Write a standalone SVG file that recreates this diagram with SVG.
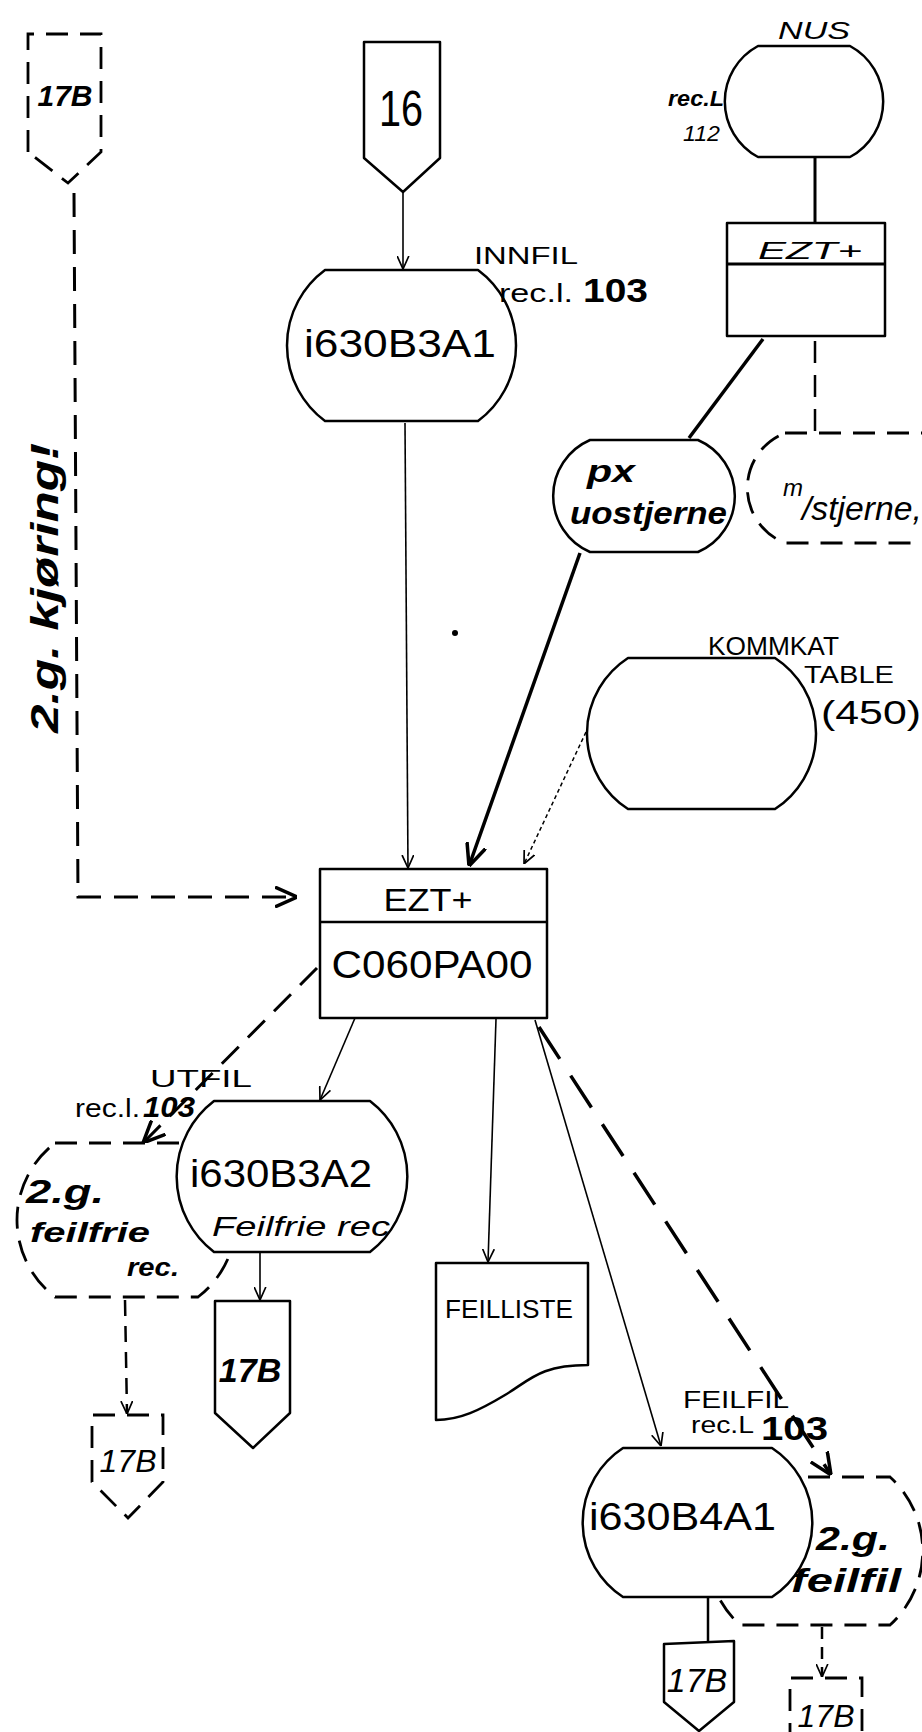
<svg xmlns="http://www.w3.org/2000/svg" width="922" height="1732" viewBox="0 0 922 1732">
<style>
.n{fill:#fff;stroke:#000;stroke-width:2.5;stroke-linejoin:round}
.d{fill:#fff;stroke:#000;stroke-width:2.8;stroke-dasharray:22 12}
.c{fill:none;stroke:#000;stroke-width:1.6}
.cd{fill:none;stroke:#000;stroke-width:3;stroke-dasharray:24 13}
.pr{font-family:"Liberation Sans",Arial,sans-serif;fill:#000}
.hd{font-family:"Liberation Sans",Arial,sans-serif;font-style:italic;fill:#000}
.b{font-weight:bold}
</style>
<defs>
<marker id="v" viewBox="0 0 10 10" refX="10" refY="5" markerWidth="13" markerHeight="13" markerUnits="userSpaceOnUse" orient="auto">
<path d="M0,0.5 L10,5 L0,9.5" fill="none" stroke="#000" stroke-width="1.3"/>
</marker>
<marker id="vt" viewBox="0 0 10 10" refX="10" refY="5" markerWidth="22" markerHeight="22" markerUnits="userSpaceOnUse" orient="auto">
<path d="M0,0.5 L10,5 L0,9.5" fill="none" stroke="#000" stroke-width="1.6"/>
</marker>
</defs>
<rect width="922" height="1732" fill="#fff"/>

<g id="connectors">
<polyline class="cd" points="74,193 78,897 297,897" marker-end="url(#vt)"/>
<line class="c" x1="403" y1="192" x2="403" y2="269" marker-end="url(#v)"/>
<line class="c" x1="405" y1="423" x2="408" y2="868" marker-end="url(#v)"/>
<line x1="815" y1="157" x2="815" y2="223" stroke="#000" stroke-width="3"/>
<line x1="763" y1="339" x2="689" y2="438" stroke="#000" stroke-width="3.5"/>
<line x1="815" y1="341" x2="815" y2="433" stroke="#000" stroke-width="2.5" stroke-dasharray="22 12"/>
<line x1="580" y1="553" x2="469" y2="866" stroke="#000" stroke-width="3.5" marker-end="url(#vt)"/>
<line x1="586" y1="732" x2="524" y2="864" stroke="#000" stroke-width="1.5" stroke-dasharray="4 3" marker-end="url(#v)"/>
<line x1="317" y1="968" x2="143" y2="1143" class="cd" stroke-width="3.8" marker-end="url(#vt)"/>
<line class="c" x1="355" y1="1018" x2="320" y2="1100" marker-end="url(#v)"/>
<line class="c" x1="260" y1="1252" x2="260" y2="1300" marker-end="url(#v)"/>
<line x1="125" y1="1300" x2="127" y2="1414" stroke="#000" stroke-width="2.5" stroke-dasharray="16 10" marker-end="url(#v)"/>
<line class="c" x1="496" y1="1019" x2="488" y2="1262" marker-end="url(#v)"/>
<line class="c" x1="535" y1="1020" x2="661" y2="1446" marker-end="url(#v)"/>
<line x1="539" y1="1027" x2="831" y2="1475" stroke="#000" stroke-width="3.5" stroke-dasharray="38 20" marker-end="url(#vt)"/>
<line x1="708" y1="1597" x2="708" y2="1643" stroke="#000" stroke-width="2.5"/>
<line x1="822" y1="1627" x2="822" y2="1677" stroke="#000" stroke-width="2.5" stroke-dasharray="12 8" marker-end="url(#v)"/>
<circle cx="455" cy="633" r="3" fill="#000"/>
</g>

<g id="n17b_top">
<path class="d" d="M28,152 V34 H101 V152 L68,183 Z" stroke-dasharray="30 14"/>
<text class="hd b" x="65" y="106" font-size="30" text-anchor="middle">17B</text>
</g>

<g id="label_2g_kjoring">
<text class="hd b" font-size="38" text-anchor="middle" transform="translate(58,588) rotate(-90)" textLength="290" lengthAdjust="spacingAndGlyphs">2.g. kjøring!</text>
</g>

<g id="n16">
<path class="n" d="M364,42 H440 V158 L403,192 L364,158 Z"/>
<text class="pr" x="401" y="126" font-size="50" text-anchor="middle" textLength="44" lengthAdjust="spacingAndGlyphs">16</text>
</g>

<g id="i630B3A1">
<path class="n" d="M325,270 H478 A94,94 0 0 1 478,421 H325 A94,94 0 0 1 325,270 Z"/>
<text class="pr" x="400" y="357" font-size="38" text-anchor="middle" textLength="192" lengthAdjust="spacingAndGlyphs">i630B3A1</text>
<text class="pr" x="474" y="264" font-size="24" textLength="104" lengthAdjust="spacingAndGlyphs">INNFIL</text>
<text class="pr" x="499" y="302" font-size="26" textLength="74" lengthAdjust="spacingAndGlyphs">rec.l.</text>
<text class="pr b" x="583" y="302" font-size="34" textLength="65" lengthAdjust="spacingAndGlyphs">103</text>
</g>

<g id="NUS">
<path class="n" stroke-width="3" d="M758,46 H850 A63,63 0 0 1 850,157 H758 A63,63 0 0 1 758,46 Z"/>
<text class="hd" x="778" y="39" font-size="24" textLength="72" lengthAdjust="spacingAndGlyphs">NUS</text>
<text class="hd b" x="668" y="106" font-size="22" textLength="56" lengthAdjust="spacingAndGlyphs">rec.L</text>
<text class="hd" x="683" y="141" font-size="22" textLength="37" lengthAdjust="spacingAndGlyphs">112</text>
</g>

<g id="EZT_top">
<rect class="n" x="727" y="223" width="158" height="113" stroke-width="3"/>
<line x1="727" y1="264" x2="885" y2="264" stroke="#000" stroke-width="3"/>
<text class="hd" x="810" y="259" font-size="24" text-anchor="middle" textLength="104" lengthAdjust="spacingAndGlyphs">EZT+</text>
</g>

<g id="px_uostjerne">
<path class="n" stroke-width="3.5" d="M590,440 H698 A61,61 0 0 1 698,552 H590 A61,61 0 0 1 590,440 Z"/>
<text class="hd b" x="587" y="482" font-size="32" textLength="48" lengthAdjust="spacingAndGlyphs">px</text>
<text class="hd b" x="570" y="524" font-size="32" textLength="157" lengthAdjust="spacingAndGlyphs">uostjerne</text>
</g>

<g id="m_stjerne">
<path class="d" d="M785,433 H930 A59,59 0 0 1 930,543 H785 A59,59 0 0 1 785,433 Z"/>
<text class="hd" x="783" y="496" font-size="24">m</text>
<text class="hd" x="802" y="520" font-size="34" textLength="120" lengthAdjust="spacingAndGlyphs">/stjerne,</text>
</g>

<g id="KOMMKAT">
<path class="n" d="M628,658 H775 A90,90 0 0 1 775,809 H628 A90,90 0 0 1 628,658 Z"/>
<text class="pr" x="708" y="655" font-size="25" textLength="131" lengthAdjust="spacingAndGlyphs">KOMMKAT</text>
<text class="pr" x="804" y="683" font-size="24" textLength="90" lengthAdjust="spacingAndGlyphs">TABLE</text>
<text class="pr" x="821" y="724" font-size="34" textLength="100" lengthAdjust="spacingAndGlyphs">(450)</text>
</g>

<g id="EZT_main">
<rect class="n" x="320" y="869" width="227" height="149"/>
<line x1="320" y1="922" x2="547" y2="922" stroke="#000" stroke-width="2.5"/>
<text class="pr" x="428" y="911" font-size="32" text-anchor="middle" textLength="89" lengthAdjust="spacingAndGlyphs">EZT+</text>
<text class="pr" x="432" y="978" font-size="38" text-anchor="middle" textLength="201" lengthAdjust="spacingAndGlyphs">C060PA00</text>
</g>

<g id="feilfrie_2g">
<path class="d" d="M55,1143 H198 A97,97 0 0 1 198,1297 H55 A97,97 0 0 1 55,1143 Z"/>
<text class="hd b" x="26" y="1203" font-size="34" textLength="78" lengthAdjust="spacingAndGlyphs">2.g.</text>
<text class="hd b" x="30" y="1242" font-size="28" textLength="120" lengthAdjust="spacingAndGlyphs">feilfrie</text>
<text class="hd b" x="127" y="1276" font-size="26" textLength="52" lengthAdjust="spacingAndGlyphs">rec.</text>
</g>

<g id="i630B3A2">
<path class="n" d="M214,1101 H370 A95,95 0 0 1 370,1252 H214 A95,95 0 0 1 214,1101 Z"/>
<text class="pr" x="190" y="1187" font-size="38" textLength="182" lengthAdjust="spacingAndGlyphs">i630B3A2</text>
<text class="hd" x="212" y="1236" font-size="28" textLength="178" lengthAdjust="spacingAndGlyphs">Feilfrie rec</text>
<text class="pr" x="150" y="1087" font-size="24" textLength="102" lengthAdjust="spacingAndGlyphs">UTFIL</text>
<text class="pr" x="75" y="1117" font-size="25" textLength="65" lengthAdjust="spacingAndGlyphs">rec.l.</text>
<text class="hd b" x="143" y="1117" font-size="30" textLength="52" lengthAdjust="spacingAndGlyphs">103</text>
</g>

<g id="n17b_left">
<path class="d" d="M92,1482 V1415 H163 V1482 L128,1518 Z" stroke-width="2.5" stroke-dasharray="16 10"/>
<text class="hd" x="128" y="1472" font-size="32" text-anchor="middle">17B</text>
</g>

<g id="n17b_mid">
<path class="n" d="M215,1413 V1301 H290 V1413 L253,1448 Z"/>
<text class="hd b" x="250" y="1382" font-size="34" text-anchor="middle">17B</text>
</g>

<g id="FEILLISTE">
<path class="n" d="M436,1263 H588 V1365 C540,1365 530,1380 505,1395 C480,1410 460,1420 436,1420 Z"/>
<text class="pr" x="445" y="1318" font-size="25" textLength="128" lengthAdjust="spacingAndGlyphs">FEILLISTE</text>
</g>

<g id="feilfil_2g">
<path class="d" d="M740,1477 H890 A100,100 0 0 1 890,1625 H740 A100,100 0 0 1 740,1477 Z"/>
<text class="hd b" x="816" y="1550" font-size="34" textLength="74" lengthAdjust="spacingAndGlyphs">2.g.</text>
<text class="hd b" x="791" y="1592" font-size="34" textLength="110" lengthAdjust="spacingAndGlyphs">feilfil</text>
</g>

<g id="i630B4A1">
<path class="n" d="M623,1448 H772 A89,89 0 0 1 772,1597 H623 A89,89 0 0 1 623,1448 Z"/>
<text class="pr" x="589" y="1530" font-size="38" textLength="187" lengthAdjust="spacingAndGlyphs">i630B4A1</text>
<text class="pr" x="683" y="1408" font-size="24" textLength="106" lengthAdjust="spacingAndGlyphs">FEILFIL</text>
<text class="pr" x="691" y="1433" font-size="24" textLength="63" lengthAdjust="spacingAndGlyphs">rec.L</text>
<text class="pr b" x="761" y="1440" font-size="34" textLength="67" lengthAdjust="spacingAndGlyphs">103</text>
</g>

<g id="n17b_bottom">
<path class="n" d="M664,1702 V1644 L734,1641 V1702 L699,1731 Z"/>
<text class="hd" x="697" y="1692" font-size="34" text-anchor="middle">17B</text>
</g>

<g id="n17b_bottom_right">
<path class="d" fill="none" d="M790,1745 V1678 H862 V1745" stroke-width="2.5" stroke-dasharray="14 9"/>
<text class="hd" x="826" y="1727" font-size="32" text-anchor="middle">17B</text>
</g>
</svg>
